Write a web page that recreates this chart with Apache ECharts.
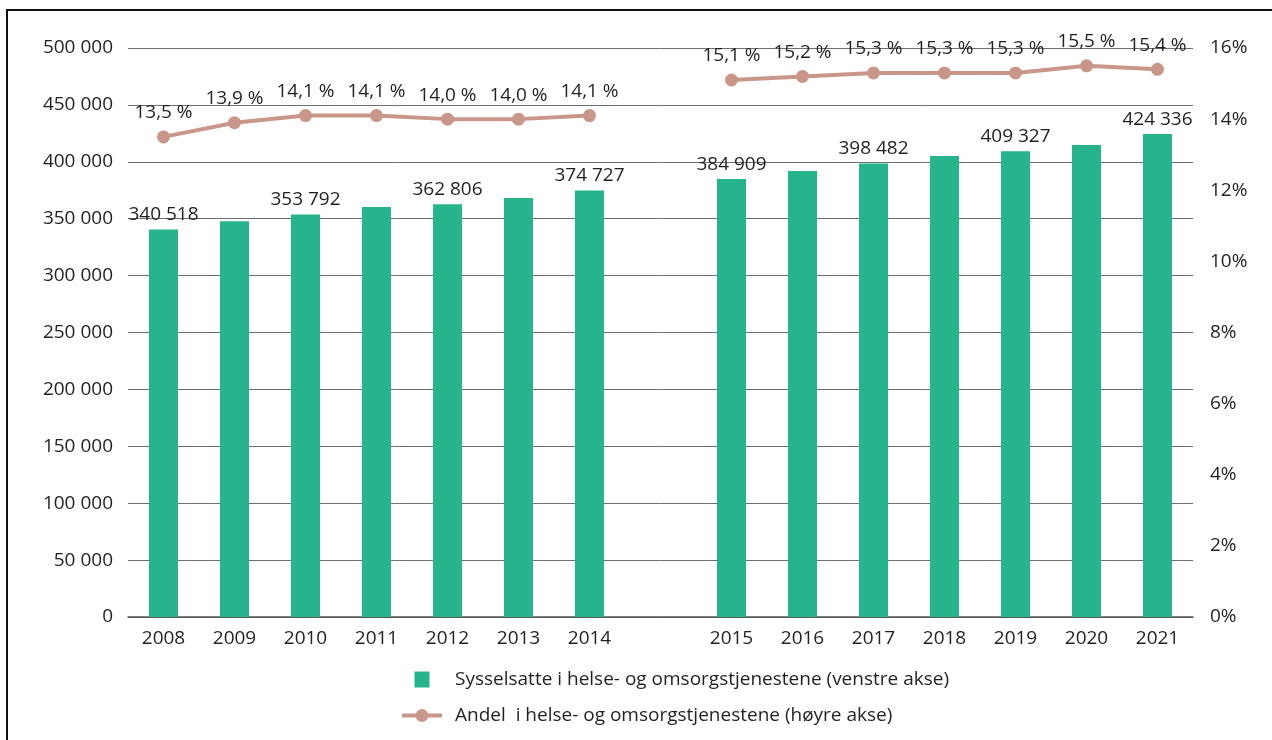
<!DOCTYPE html>
<html>
<head>
<meta charset="utf-8">
<script src="https://cdn.jsdelivr.net/npm/echarts@6/dist/echarts.min.js"></script>
<style>
  html, body { margin: 0; padding: 0; background: #fff; overflow: hidden; }
  #chart { position: absolute; left: 0; top: 0; width: 1272px; height: 740px; }
  #frame { position: absolute; left: 6px; top: 9px; width: 1400px; height: 900px;
           border-top: 2px solid #111; border-left: 2px solid #111; pointer-events: none; }
</style>
</head>
<body>
<div id="chart"></div>
<div id="frame"></div>
<script>
// kategorier (tom plass mellom 2014 og 2015 = brudd i serien)
const years = ['2008', '2009', '2010', '2011', '2012', '2013', '2014', '',
               '2015', '2016', '2017', '2018', '2019', '2020', '2021'];

// sysselsatte (venstre akse)
const employed = [340518, 347800, 353792, 360300, 362806, 368200, 374727, null,
                  384909, 391900, 398482, 405100, 409327, 414800, 424336];
// hvilke søyler som har verdietikett
const labelledBars = [0, 2, 4, 6, 8, 10, 12, 14];

// andel i prosent (høyre akse)
const share = [13.5, 13.9, 14.1, 14.1, 14.0, 14.0, 14.1, null,
               15.1, 15.2, 15.3, 15.3, 15.3, 15.5, 15.4];

const barName = 'Sysselsatte i helse- og omsorgstjenestene (venstre akse)';
const lineName = 'Andel  i helse- og omsorgstjenestene (høyre akse)';

const font = '"Open Sans", sans-serif';
const fs = 19;
const txt = '#231f20';
const fmtNum = v => String(v).replace(/\B(?=(\d{3})+(?!\d))/g, ' ');

const chart = echarts.init(document.getElementById('chart'));

chart.setOption({
    animation: false,
    textStyle: { fontFamily: font, color: txt },
    grid: { left: 128, right: 79, top: 48, bottom: 123 },
    legend: {
        orient: 'vertical',
        left: 395, top: 665,
        itemWidth: 40, itemHeight: 16, itemGap: 17,
        symbolKeepAspect: true,
        textStyle: { fontFamily: font, fontSize: fs, color: txt, padding: [0, 0, 0, 8] },
        data: [
            { name: barName, icon: 'path://M0,0h15v16h-15z' },
            { name: lineName, lineStyle: { width: 4 } }
        ]
    },
    xAxis: {
        type: 'category',
        data: years,
        axisLine: { lineStyle: { color: '#555', width: 1.5 } },
        axisTick: { show: false },
        axisLabel: { interval: 0, margin: 12, fontSize: fs, color: txt, fontFamily: font }
    },
    yAxis: [{
        type: 'value', min: 0, max: 500000, interval: 50000,
        axisLine: { show: false }, axisTick: { show: false },
        axisLabel: { margin: 15, fontSize: fs, color: txt, fontFamily: font, formatter: v => fmtNum(v) },
        splitLine: { lineStyle: { color: '#6f6f6f', width: 1 } }
    }, {
        type: 'value', min: 0, max: 16, interval: 2,
        axisLine: { show: false }, axisTick: { show: false },
        axisLabel: { margin: 17, fontSize: fs, color: txt, fontFamily: font, formatter: '{value}%' },
        splitLine: { show: false }
    }],
    series: [{
        name: barName,
        type: 'bar',
        yAxisIndex: 0,
        barWidth: 29,
        itemStyle: { color: '#25b48b' },
        data: employed.map((v, i) => ({
            value: v,
            label: { show: labelledBars.includes(i) }
        })),
        label: {
            position: 'top', distance: 5,
            fontSize: fs, color: txt, fontFamily: font,
            formatter: p => fmtNum(p.value)
        }
    }, {
        name: lineName,
        type: 'line',
        yAxisIndex: 1,
        data: share,
        connectNulls: false,
        symbol: 'circle', symbolSize: 13,
        lineStyle: { color: '#c9968a', width: 4 },
        itemStyle: { color: '#c9968a' },
        label: {
            show: true, position: 'top', distance: 8,
            fontSize: fs, color: txt, fontFamily: font,
            formatter: p => p.value.toFixed(1).replace('.', ',') + ' %'
        }
    }]
});
</script>
</body>
</html>
